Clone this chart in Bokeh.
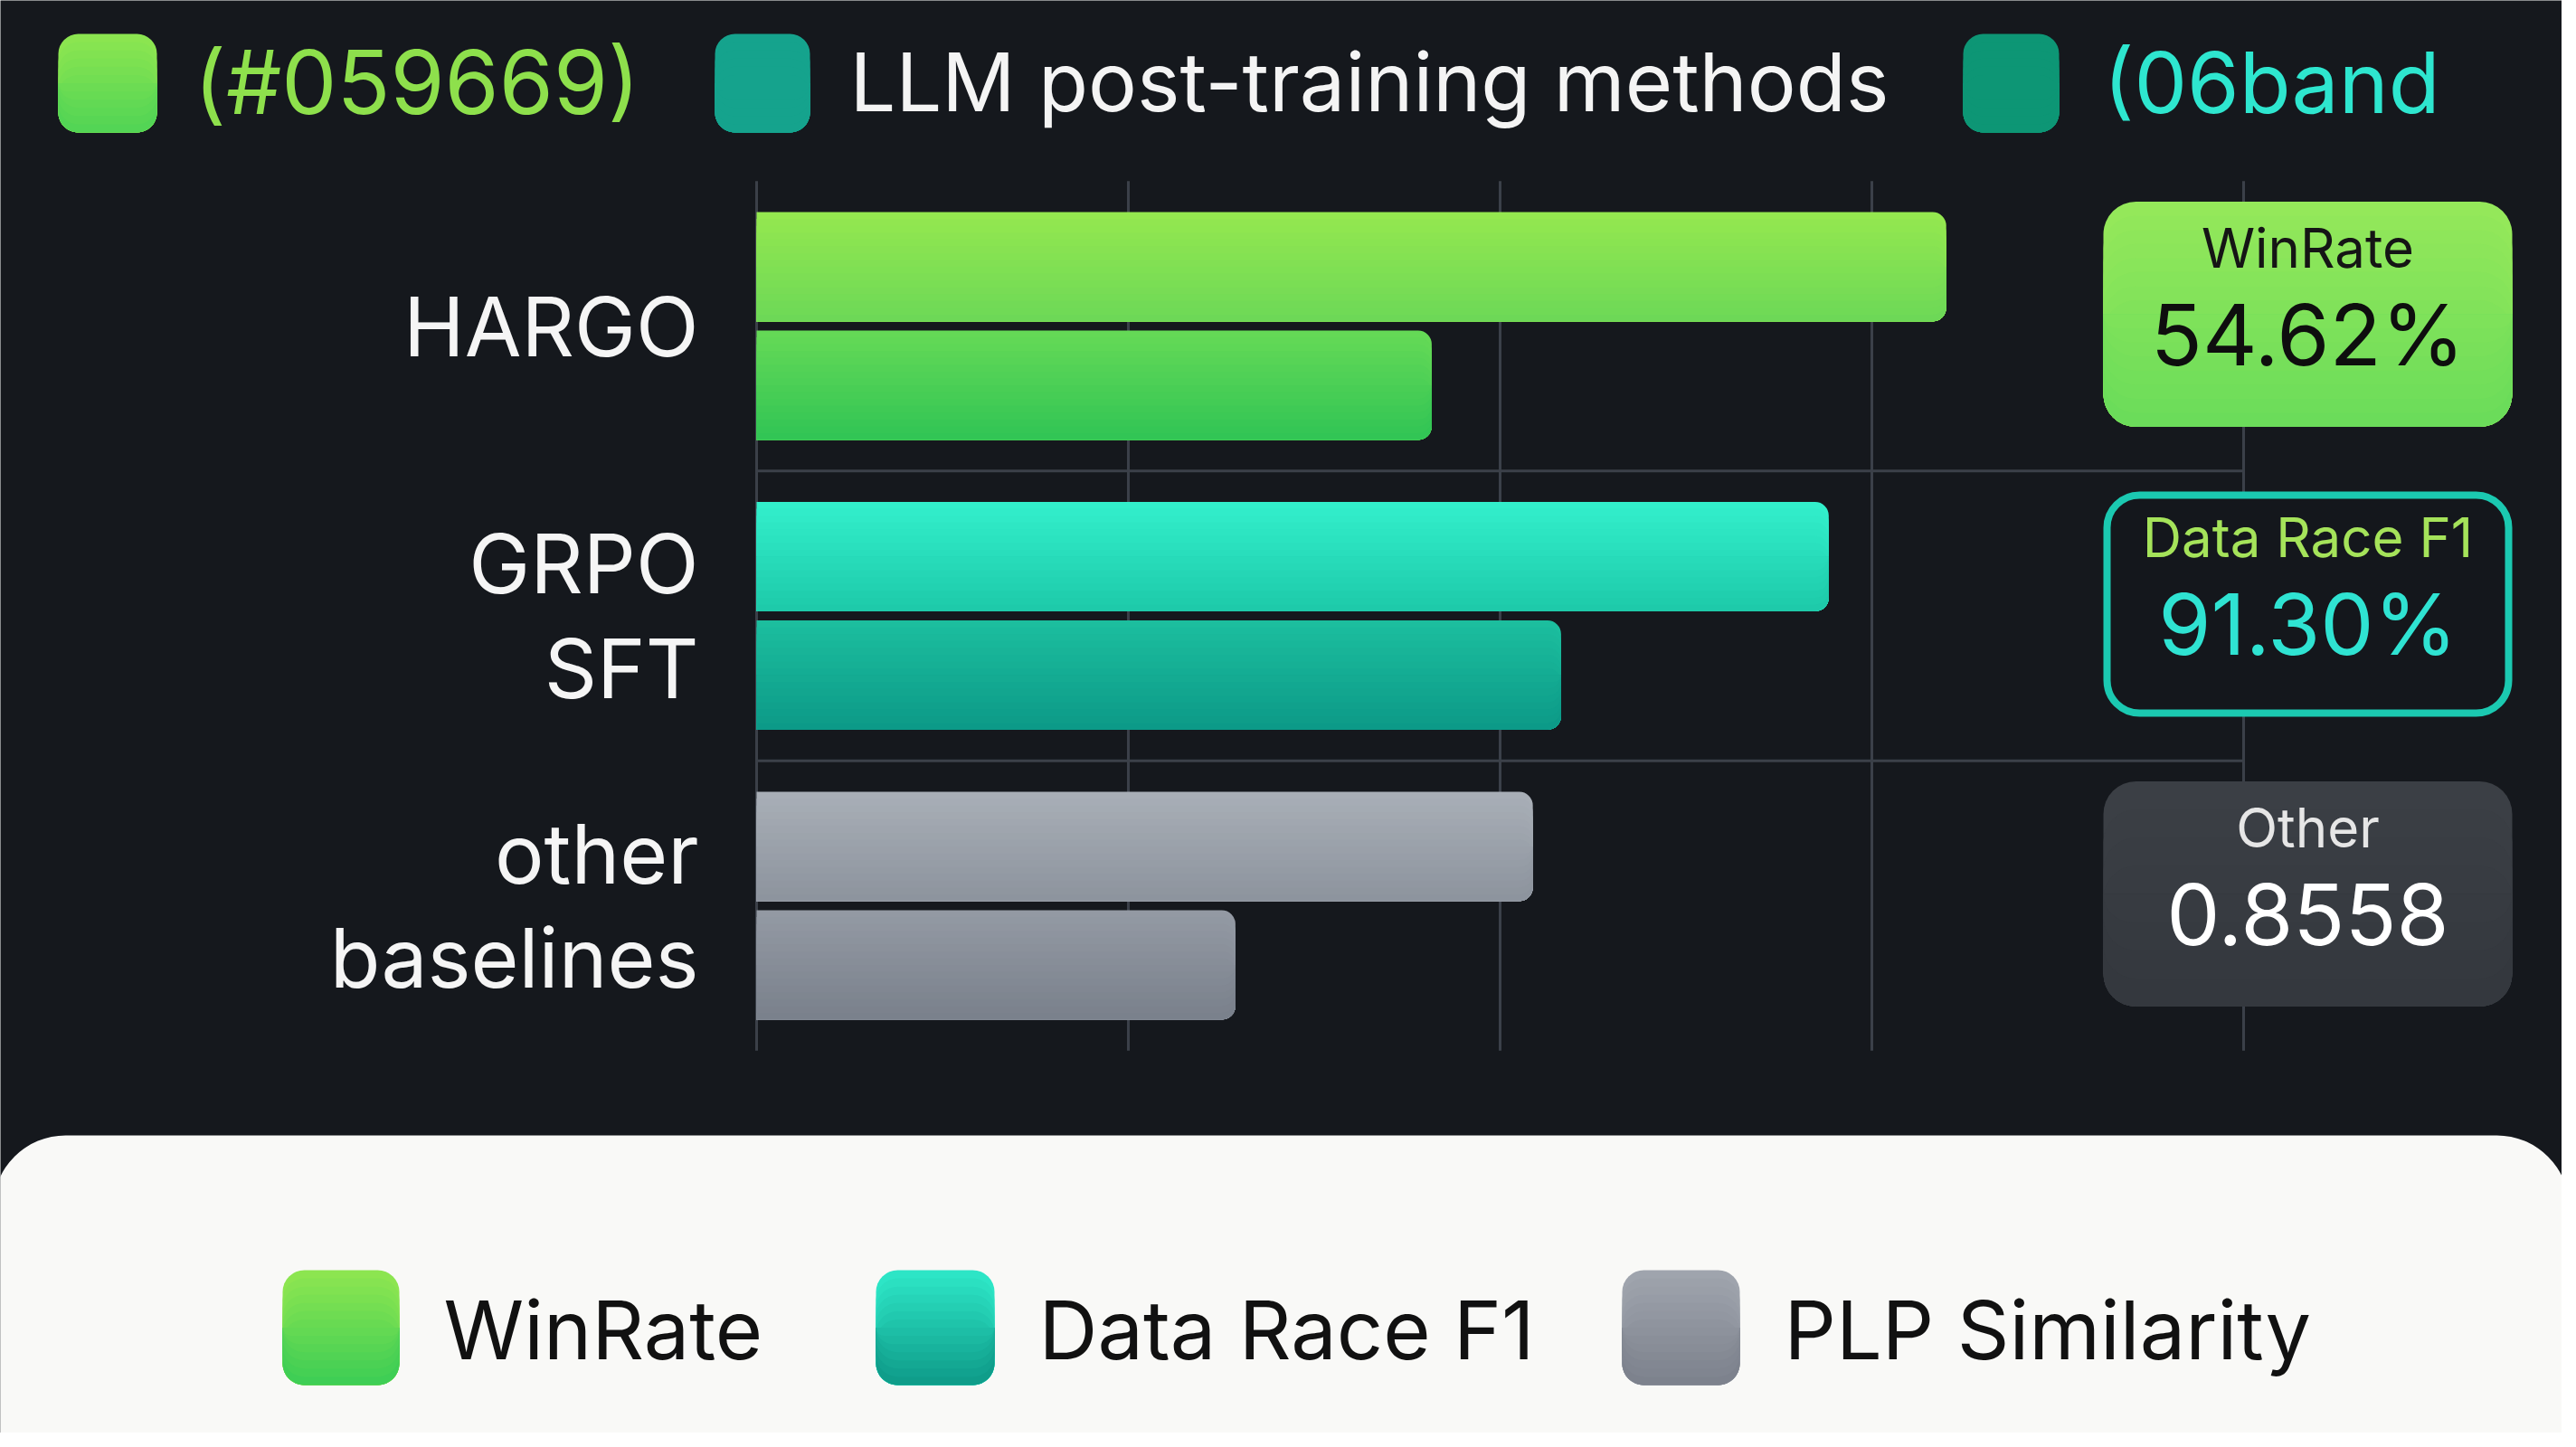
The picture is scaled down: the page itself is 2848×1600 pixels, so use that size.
from bokeh.plotting import figure
from bokeh.models import Range1d
from bokeh.core.properties import value
from bokeh.embed import file_html
from bokeh.resources import INLINE

# ---------------- data ----------------
groups = ["HARGO", "GRPO\nSFT", "other\nbaselines"]
upper_values = [80.0, 72.1, 52.2]
lower_values = [45.4, 54.1, 32.2]
# (top colour, bottom colour) of each bar's vertical shading
upper_colors = [("#95e84f", "#6cd857"), ("#33f0cc", "#1dc9a9"), ("#a9afb7", "#8c939d")]
lower_colors = [("#66da56", "#30c455"), ("#1cbf9f", "#0c9987"), ("#949aa4", "#79808b")]
x_ticks = [0, 25, 50, 75, 100]

card_titles = ["WinRate", "Data Race F1", "Other"]
card_values = ["54.62%", "91.30%", "0.8558"]

legend_labels = ["WinRate", "Data Race F1", "PLP Similarity"]
legend_colors = [("#8fe650", "#3ccd55"), ("#2ee8c8", "#0e9a88"), ("#a0a5ae", "#7c818c")]

header_labels = ["(#059669)", "LLM post-training methods", "(06band"]
header_text_colors = ["#8ee04c", "#f4f4f4", "#2ee6cf"]
header_swatch_colors = [("#8ee650", "#50d455"), ("#15a38d", "#15a38d"), ("#0d9675", "#0d9675")]

# ---------------- geometry helpers (page pixels -> data) ----------------
W, H = 2832, 1584
n = len(groups)
X0_PAGE, PX_X = 836.0, 16.44
Y0_PAGE, PX_Y = 360.0, 320.5


def dx(px):
    return (px - X0_PAGE) / PX_X


def dy(py):
    return (n - 1) - (py - Y0_PAGE) / PX_Y


def mix(c0, c1, t):
    a = [int(c0[i:i + 2], 16) for i in (1, 3, 5)]
    b = [int(c1[i:i + 2], 16) for i in (1, 3, 5)]
    return "#" + "".join("%02x" % round(a[k] + (b[k] - a[k]) * t) for k in range(3))


FONT = value("Inter")
BG = "#15181d"

p = figure(width=W, height=H, x_range=Range1d(dx(0), dx(W)),
           y_range=Range1d(dy(H), dy(0)), output_backend="svg",
           toolbar_location=None, min_border=0, x_axis_type=None,
           y_axis_type=None, background_fill_color=BG,
           border_fill_color=BG, outline_line_color=None)
p.grid.visible = False


def grad_quads(lefts, rights, tops, bottoms, colors, radius, steps, left_round=True):
    """Vertically shaded rounded boxes built from overlapping layers."""
    h = [t - b for t, b in zip(tops, bottoms)]
    mids = [(t + b) / 2 for t, b in zip(tops, bottoms)]
    half = steps // 2
    r = radius
    full_r = (r, r, r, r) if left_round else (0, r, r, 0)
    bot_r = (0, 0, r, r) if left_round else (0, 0, r, 0)
    # upper half: layers from band top down to the box bottom
    for j in range(half):
        tj = [t - hh * j / steps for t, hh in zip(tops, h)]
        cols = [mix(c0, c1, (j + 0.5) / steps) for c0, c1 in colors]
        p.quad(left=lefts, right=rights, top=tj, bottom=bottoms,
               fill_color=cols, line_color=None, border_radius=full_r)
    # lower half: layers from the middle down to band bottom
    for j in range(steps - 1, half - 1, -1):
        bj = [t - hh * (j + 1) / steps for t, hh in zip(tops, h)]
        cols = [mix(c0, c1, (j + 0.5) / steps) for c0, c1 in colors]
        p.quad(left=lefts, right=rights, top=mids, bottom=bj,
               fill_color=cols, line_color=None, border_radius=bot_r)


pos = [n - 1 - i for i in range(n)]
off = 65.5 / PX_Y
bar_h = 121 / PX_Y

# grid lines and separators
p.segment(x0=x_ticks, x1=x_ticks, y0=-0.5, y1=n - 0.5,
          line_color="#3b4049", line_width=3)
seps = [k + 0.5 for k in range(n - 1)]
p.segment(x0=x_ticks[0], x1=x_ticks[-1], y0=seps, y1=seps,
          line_color="#3b4049", line_width=3)

# bars
uy = [q + off for q in pos]
ly = [q - off for q in pos]
grad_quads([0] * n, upper_values, [y + bar_h / 2 for y in uy], [y - bar_h / 2 for y in uy],
           upper_colors, 15, 16, left_round=False)
grad_quads([0] * n, lower_values, [y + bar_h / 2 for y in ly], [y - bar_h / 2 for y in ly],
           lower_colors, 15, 16, left_round=False)

# category labels
p.text(x=dx(772), y=pos, text=groups, text_font=FONT, text_font_size="91px",
       text_color="#f5f5f5", text_align="right", text_baseline="middle",
       text_line_height=1.05)

# cards
cx0, cx1 = dx(2325), dx(2777)
cc = [q + 13 / PX_Y for q in pos]
ch = 124.5 / PX_Y
grad_quads([cx0], [cx1], [cc[0] + ch], [cc[0] - ch], [("#95e85a", "#6adc5a")], 36, 16)
p.quad(left=dx(2329), right=dx(2773), top=cc[1] + ch - 4 / PX_Y,
       bottom=cc[1] - ch + 4 / PX_Y, fill_color="#14171c",
       line_color="#1bc9b1", line_width=8, border_radius=36)
grad_quads([cx0], [cx1], [cc[2] + ch], [cc[2] - ch], [("#3b3f45", "#34383e")], 36, 8)
cmid = (cx0 + cx1) / 2
title_colors = ["#151515", "#a5e35a", "#e6e6e6"]
value_colors = ["#0e0e0e", "#2fe3d2", "#ffffff"]
p.text(x=cmid, y=[c + 74 / PX_Y for c in cc], text=card_titles, text_font=FONT,
       text_font_size="60px", text_color=title_colors, text_align="center",
       text_baseline="middle")
p.text(x=cmid, y=[c - 22 / PX_Y for c in cc], text=card_values, text_font=FONT,
       text_font_size="94px", text_color=value_colors, text_align="center",
       text_baseline="middle")

# header legend
hsq_x = [(64, 173), (790, 895), (2170, 2276)]
htxt_x = [214, 939, 2325]
grad_quads([dx(a) for a, b in hsq_x], [dx(b) for a, b in hsq_x],
           [dy(37)] * 3, [dy(146)] * 3, header_swatch_colors, 22, 12)
p.text(x=[dx(v) for v in htxt_x], y=dy(90), text=header_labels, text_font=FONT,
       text_font_size=["97px", "90px", "93px"], text_color=header_text_colors,
       text_align="left", text_baseline="middle")

# bottom panel
p.quad(left=dx(-8), right=dx(2840), top=dy(1255), bottom=dy(1700),
       fill_color="#f9f9f7", line_color=None, border_radius=(80, 80, 0, 0))
lsq_x = [(312, 441), (968, 1099), (1793, 1923)]
ltxt_x = [490, 1148, 1972]
grad_quads([dx(a) for a, b in lsq_x], [dx(b) for a, b in lsq_x],
           [dy(1404)] * 3, [dy(1531)] * 3, legend_colors, 24, 14)
p.text(x=[dx(v) for v in ltxt_x], y=dy(1470), text=legend_labels,
       text_font=FONT, text_font_size="90px", text_color="#111111",
       text_align="left", text_baseline="middle")

open("out.html", "w").write(file_html(p, INLINE))
